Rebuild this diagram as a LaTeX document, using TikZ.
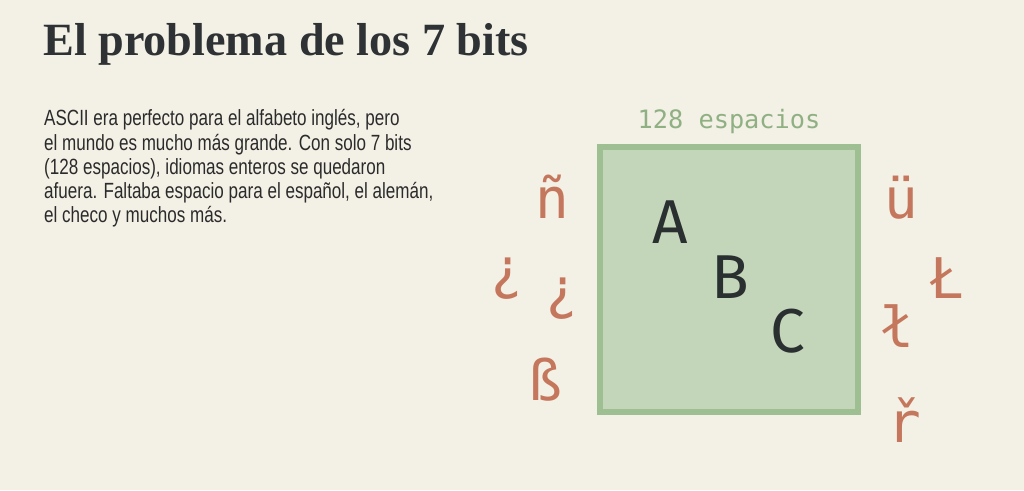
\documentclass[tikz,border=0pt]{standalone}
\usepackage{fontspec}
\setmainfont{Liberation Serif}
\newfontfamily\titlefont{Liberation Serif}
\newfontfamily\bodyfont[FakeStretch=0.775]{Liberation Sans}
\newfontfamily\monofont{DejaVu Sans Mono}
\newfontfamily\letterfont{Fira Sans}
\definecolor{bgc}{HTML}{F3F0E5}
\definecolor{titlec}{HTML}{2E3234}
\definecolor{bodyc}{HTML}{2B2B2B}
\definecolor{greentxt}{HTML}{8FB083}
\definecolor{boxfill}{HTML}{C4D6BA}
\definecolor{boxline}{HTML}{9DBF92}
\definecolor{redc}{HTML}{C4775C}
\definecolor{darkc}{HTML}{2A2F30}
\tikzset{
  ascii/.style={anchor=base, inner sep=0pt, text=darkc, font=\letterfont\fontsize{62}{62}\selectfont},
  foreign/.style={anchor=base, inner sep=0pt, text=redc, font=\monofont\fontsize{56}{56}\selectfont},
}
\begin{document}
\begin{tikzpicture}[x=1pt,y=-1pt]
\useasboundingbox (0,0) rectangle (1024,490);
\fill[bgc] (0,0) rectangle (1024,490);
\node[anchor=base west, inner sep=0pt, text=titlec, font=\titlefont\bfseries\fontsize{46.2}{46.2}\selectfont] (title) at (43,55) {El problema de los 7 bits};
\node[anchor=base west, inner sep=0pt, text=bodyc, align=left, font=\bodyfont\fontsize{22}{24.3}\selectfont] (body) at (44,222.9) {ASCII era perfecto para el alfabeto inglés, pero\\
el mundo es mucho más grande. Con solo 7 bits\\
(128 espacios), idiomas enteros se quedaron\\
afuera. Faltaba espacio para el español, el alemán,\\
el checo y muchos más.};
\node[anchor=base, inner sep=0pt, text=greentxt, font=\monofont\fontsize{25.3}{25.3}\selectfont] (label) at (729,128) {128 espacios};
\node[draw=boxline, line width=6pt, fill=boxfill, minimum width=258pt, minimum height=265pt, inner sep=0pt, anchor=north west] (box) at (597,144) {};
\node[ascii] (A) at (670,243) {A};
\node[ascii] (B) at (730,298) {B};
\node[ascii] (C) at (788,352) {C};
\node[foreign] (n) at (552,218) {ñ};
\node[foreign] (q1) at (507,288) {¿};
\node[foreign] (q2) at (562,308) {¿};
\node[foreign] (ss) at (545,400) {ß};
\node[foreign] (u) at (901,218) {ü};
\node[foreign] (L) at (947,298) {Ł};
\node[foreign] (l) at (897,347) {ł};
\node[foreign] (r) at (904,442) {ř};
\end{tikzpicture}
\end{document}
